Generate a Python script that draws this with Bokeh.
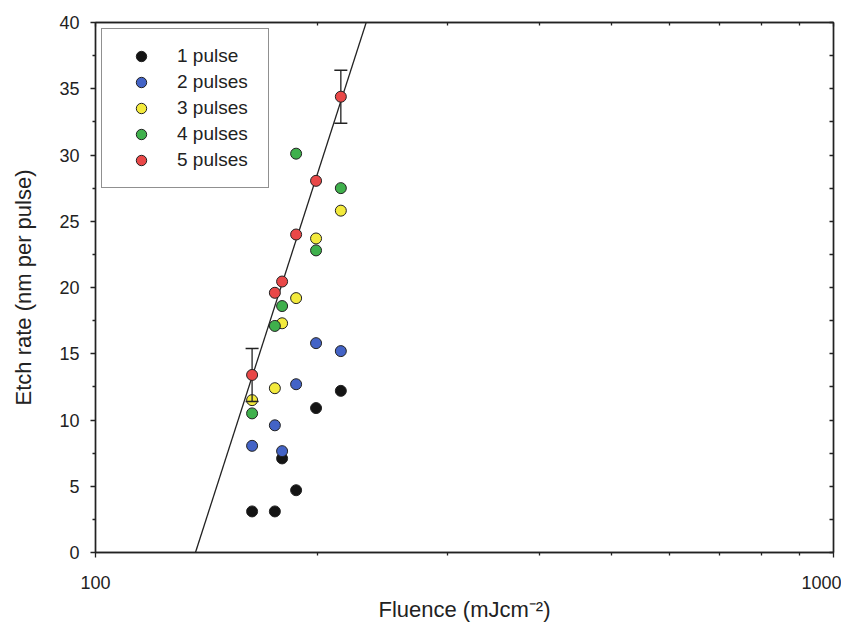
from bokeh.plotting import figure
from bokeh.models import (Range1d, FixedTicker, LinearAxis, LogAxis, Legend, LegendItem,
                          PrintfTickFormatter, CustomJSTickFormatter)
from bokeh.embed import file_html
from bokeh.resources import INLINE
import numpy as np

# ---------------- data ----------------
fluence = [163, 175, 179, 187, 199, 215]
rate_1 = [3.1, 3.1, 7.1, 4.7, 10.9, 12.2]
rate_2 = [8.05, 9.6, 7.65, 12.7, 15.8, 15.2]
rate_3 = [11.5, 12.4, 17.3, 19.2, 23.7, 25.8]
rate_4 = [10.5, 17.1, 18.6, 30.1, 22.8, 27.5]
rate_5 = [13.4, 19.6, 20.45, 24.0, 28.05, 34.4]
series_labels = ["1 pulse", "2 pulses", "3 pulses", "4 pulses", "5 pulses"]
series_colors = ["#141414", "#4363c6", "#f3ea3c", "#3fb04c", "#e94848"]

err_x = [163, 215]
err_y = [13.4, 34.4]
err_size = [2.0, 2.0]

fit_threshold = 136.6      # fluence at zero etch rate
fit_slope = 172.9          # nm per pulse per decade of fluence

x_major_ticks = [100, 1000]
x_minor_ticks = [200, 300, 400, 500, 600, 700, 800, 900]
y_major_ticks = [0, 5, 10, 15, 20, 25, 30, 35, 40]
y_minor_ticks = [2.5, 7.5, 12.5, 17.5, 22.5, 27.5, 32.5, 37.5]
y_right_ticks = [0, 2.5, 5, 7.5, 10, 12.5, 15, 17.5, 20, 22.5, 25, 27.5, 30, 32.5, 35, 37.5, 40]

FONT = "Liberation Sans"
INK = "#222222"

p = figure(width=841, height=628, x_axis_type="log",
           x_range=Range1d(100, 1000), y_range=Range1d(0, 40),
           output_backend="svg", toolbar_location=None,
           min_border_left=95, min_border_right=8, min_border_top=22, min_border_bottom=76)
p.grid.visible = False
p.outline_line_color = INK
p.outline_line_width = 1.4
p.background_fill_color = "white"
p.border_fill_color = "white"

# bottom axis
xa = p.xaxis[0]
xa.ticker = FixedTicker(ticks=x_major_ticks, minor_ticks=x_minor_ticks)
xa.formatter = PrintfTickFormatter(format="%d")
xa.major_tick_out = 5
xa.major_tick_in = 0
xa.minor_tick_out = 3
xa.minor_tick_in = 0
xa.major_label_standoff = 18
xa.major_label_text_font = FONT
xa.major_label_text_font_size = "18px"
xa.major_label_text_color = INK
xa.axis_label = "Fluence (mJcm\u207b\u00b2)"
xa.axis_label_text_font = FONT
xa.axis_label_text_font_size = "22px"
xa.axis_label_text_font_style = "normal"
xa.axis_label_text_color = INK
xa.axis_label_standoff = 5
xa.axis_line_color = INK
xa.axis_line_width = 1.4
xa.major_tick_line_color = INK
xa.minor_tick_line_color = INK
xa.major_tick_line_width = 1.3
xa.minor_tick_line_width = 1.3

# left axis
ya = p.yaxis[0]
ya.ticker = FixedTicker(ticks=y_major_ticks, minor_ticks=y_minor_ticks)
ya.major_tick_out = 5
ya.major_tick_in = 0
ya.minor_tick_out = 3
ya.minor_tick_in = 0
ya.major_label_standoff = 11
ya.major_label_text_font = FONT
ya.major_label_text_font_size = "18px"
ya.major_label_text_color = INK
ya.axis_label = "Etch rate (nm per pulse)"
ya.axis_label_text_font = FONT
ya.axis_label_text_font_size = "22px"
ya.axis_label_text_font_style = "normal"
ya.axis_label_text_color = INK
ya.axis_label_standoff = 20
ya.axis_line_color = INK
ya.axis_line_width = 1.4
ya.major_tick_line_color = INK
ya.minor_tick_line_color = INK
ya.major_tick_line_width = 1.3
ya.minor_tick_line_width = 1.3

blank = CustomJSTickFormatter(code="return ''")

# mirrored ticks, right
ra = LinearAxis(ticker=FixedTicker(ticks=y_right_ticks, minor_ticks=[]), formatter=blank,
                major_tick_in=4, major_tick_out=0, minor_tick_in=0, minor_tick_out=0,
                major_label_standoff=0, major_label_text_font_size="1px",
                axis_line_color=INK, axis_line_width=1.4,
                major_tick_line_color=INK, major_tick_line_width=1.3)
p.add_layout(ra, "right")

# mirrored ticks, top
ta = LogAxis(ticker=FixedTicker(ticks=x_major_ticks, minor_ticks=x_minor_ticks), formatter=blank,
             major_tick_in=4, major_tick_out=0, minor_tick_in=3, minor_tick_out=0,
             major_label_standoff=0, major_label_text_font_size="1px",
             axis_line_color=INK, axis_line_width=1.4,
             major_tick_line_color=INK, minor_tick_line_color=INK,
             major_tick_line_width=1.3, minor_tick_line_width=1.3)
p.add_layout(ta, "above")

# fit line
fit_x = np.array([fit_threshold, 1000.0])
fit_y = fit_slope * np.log10(fit_x / fit_threshold)
p.line(fit_x, fit_y, line_color=INK, line_width=1.3)

all_rates = [rate_1, rate_2, rate_3, rate_4, rate_5]
items = []
for i, (lab, col, ys) in enumerate(zip(series_labels, series_colors, all_rates)):
    if i == 4:
        lo = [y - e for y, e in zip(err_y, err_size)]
        hi = [y + e for y, e in zip(err_y, err_size)]
        p.segment(x0=err_x, y0=lo, x1=err_x, y1=hi, line_color=INK, line_width=1.3)
        p.scatter(x=err_x + err_x, y=lo + hi, marker="dash", size=13,
                  line_color=INK, line_width=1.5)
    r = p.scatter(x=fluence, y=ys, marker="circle", size=11,
                  fill_color=col, line_color=INK, line_width=1.0)
    items.append(LegendItem(label=lab, renderers=[r]))

legend = Legend(items=items, location="top_left", margin=6, padding=14, spacing=0,
                glyph_width=50, glyph_height=26, label_height=26, label_width=77,
                label_standoff=11, label_text_font=FONT, label_text_font_size="19px",
                label_text_color=INK, border_line_color=INK, border_line_width=1.2,
                background_fill_color="white", background_fill_alpha=1.0)
p.add_layout(legend)

open("out.html", "w").write(file_html(p, INLINE))
